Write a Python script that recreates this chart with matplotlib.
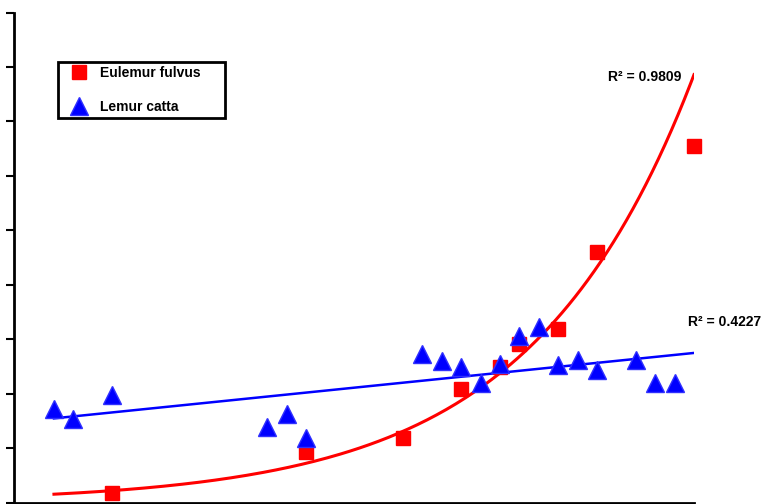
import numpy as np
import matplotlib.pyplot as plt

# sample index (x) and value (y)
fulvus_x = [3, 13, 18, 21, 23, 24, 26, 28, 33]
fulvus_y = [0.18, 0.92, 1.19, 2.08, 2.48, 2.92, 3.18, 4.60, 6.54]

catta_x = [0, 1, 3, 11, 12, 13, 19, 20, 21, 22, 23, 24, 25, 26, 27, 28, 30, 31, 32]
catta_y = [1.71, 1.54, 1.97, 1.38, 1.62, 1.19, 2.72, 2.59, 2.48, 2.19, 2.54,
           3.05, 3.22, 2.52, 2.61, 2.44, 2.61, 2.19, 2.19]

r2_fulvus = '0.9809'
r2_catta = '0.4227'

plt.rcParams['font.family'] = ['Liberation Sans', 'DejaVu Sans']

fig = plt.figure(figsize=(7.81, 5.04), dpi=100)
ax = fig.add_axes([14 / 781, 1.5 / 504, (694 - 14) / 781, (503 - 13) / 504])

# trend lines over the full x range (exponential for fulvus, linear for catta)
xs = np.linspace(0, 33, 200)
k, b = np.polyfit(fulvus_x, np.log(fulvus_y), 1)
ax.plot(xs, np.exp(b + k * xs), color='red', lw=2.2, zorder=2)
m, c = np.polyfit(catta_x, catta_y, 1)
ax.plot(xs, m * xs + c, color='blue', lw=1.8, zorder=2)

# trailing spaces widen the legend box like the original
ax.plot(fulvus_x, fulvus_y, 's', color='red', ms=10, mec='red', zorder=3,
        label='Eulemur fulvus     ', clip_on=False)
ax.plot(catta_x, catta_y, '^', color='blue', ms=13, mec='#3030ff', mew=1,
        zorder=4, label='Lemur catta', clip_on=False)

ax.set_xlim(-2.06, 33)
ax.set_ylim(0, 9)
ax.set_yticks(np.arange(0, 10, 1))
ax.set_yticklabels([])
ax.set_xticks([])
ax.tick_params(axis='y', direction='out', length=6, width=1.5, color='black')
for s in ['top', 'right']:
    ax.spines[s].set_visible(False)
ax.spines['left'].set_linewidth(2)
ax.spines['bottom'].set_linewidth(2)

ax.text(30.47, 7.82, 'R² = ' + r2_fulvus, fontsize=10,
        fontweight='bold', ha='center', va='center')
ax.text(34.6, 3.31, 'R² = ' + r2_catta, fontsize=10,
        fontweight='bold', ha='center', va='center', clip_on=False)

leg = ax.legend(loc='upper left', bbox_to_anchor=(44 / 680, 1 - 49 / 490),
                frameon=True, fancybox=False, edgecolor='black', framealpha=1,
                prop={'weight': 'bold', 'size': 10}, handletextpad=0.35,
                labelspacing=1.45, borderpad=0.3, markerscale=1.0,
                handlelength=2.4, borderaxespad=0)
leg.get_frame().set_linewidth(2)

fig.savefig('out.png', dpi=100)
